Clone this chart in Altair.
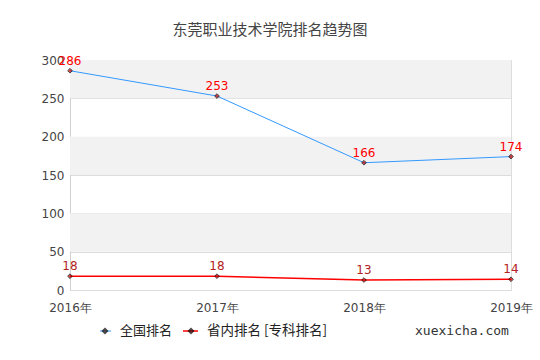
import altair as alt
import pandas as pd

years = [2016, 2017, 2018, 2019]
national = [286, 253, 166, 174]
provincial = [18, 18, 13, 14]
band_lo = [50, 150, 250]
band_hi = [100, 200, 300]
y_ticks = [0, 50, 100, 150, 200, 250, 300]
title_text = "东莞职业技术学院排名趋势图"
legend_labels = ["全国排名", "省内排名 [专科排名]"]
watermark = "xuexicha.com"

df = pd.DataFrame({"year": years, "national": national, "provincial": provincial})
bands = pd.DataFrame({"lo": band_lo, "hi": band_hi})
one = alt.Data(values=[{"a": 1}])

xs = alt.Scale(domain=[2016, 2019], nice=False, zero=False)
ys = alt.Scale(domain=[0, 300], nice=False)

xaxis = alt.Axis(values=years, labelExpr="datum.value + '年'",
                 title=None, grid=False, domain=False, ticks=False, labelPadding=12,
                 labelColor="#444", labelFont="DejaVu Sans", labelFontSize=12,
                 labelFlush=False, labelOverlap=False)
yaxis = alt.Axis(values=y_ticks, title=None, grid=True, gridColor="#dcdcdc", domain=True,
                 domainColor="#d0d0d0", ticks=False, labelPadding=6, labelColor="#444",
                 labelFont="DejaVu Sans", labelFontSize=12, labelOverlap=False, labelFlush=False)

def X():
    return alt.X("year:Q", scale=xs, axis=xaxis)

def Y(f):
    return alt.Y(f, scale=ys, axis=yaxis)

band = alt.Chart(bands).mark_rect(color="#f2f2f2").encode(
    x=alt.value(0), x2=alt.value(441), y=Y("lo:Q"), y2="hi:Q")

base = alt.Chart(df)

nat_line = base.mark_line(color="#3399ff", strokeWidth=1).encode(x=X(), y=Y("national:Q"))
nat_pts = base.mark_point(shape="diamond", size=22, filled=True, color="#cc0000", stroke="black", strokeWidth=1).encode(
    x=X(), y=Y("national:Q"))
nat_txt = base.mark_text(dy=-10, color="#ff0000", font="DejaVu Sans", fontSize=12).encode(
    x=X(), y=Y("national:Q"), text="national:Q")

pro_line = base.mark_line(color="#ff0000", strokeWidth=1.5).encode(x=X(), y=Y("provincial:Q"))
pro_pts = base.mark_point(shape="diamond", size=22, filled=True, color="#cc0000", stroke="black", strokeWidth=1).encode(
    x=X(), y=Y("provincial:Q"))
pro_txt = base.mark_text(dy=-10, color="#b22222", font="DejaVu Sans", fontSize=12).encode(
    x=X(), y=Y("provincial:Q"), text="provincial:Q")

title = alt.Chart(one).mark_text(fontSize=15, color="#444", font="Noto Sans CJK SC").encode(
    x=alt.value(200), y=alt.value(-30), text=alt.value(title_text))

leg1_line = alt.Chart(one).mark_rule(color="#3399ff", strokeWidth=1).encode(
    x=alt.value(30), x2=alt.value(41), y=alt.value(271))
leg1_pt = alt.Chart(one).mark_point(shape="diamond", size=18, filled=True, color="#cc0000", stroke="black").encode(
    x=alt.value(35), y=alt.value(271))
leg1_txt = alt.Chart(one).mark_text(align="left", fontSize=13, color="#222", font="Noto Sans CJK SC").encode(
    x=alt.value(50), y=alt.value(271), text=alt.value(legend_labels[0]))
leg2_line = alt.Chart(one).mark_rule(color="#ff0000", strokeWidth=1.5).encode(
    x=alt.value(113), x2=alt.value(128), y=alt.value(271))
leg2_pt = alt.Chart(one).mark_point(shape="diamond", size=18, filled=True, color="#cc0000", stroke="black").encode(
    x=alt.value(121), y=alt.value(271))
leg2_txt = alt.Chart(one).mark_text(align="left", fontSize=13.5, color="#222", font="Noto Sans CJK SC").encode(
    x=alt.value(137), y=alt.value(271), text=alt.value(legend_labels[1]))
wm = alt.Chart(one).mark_text(align="left", fontSize=13, color="#333", font="DejaVu Sans Mono").encode(
    x=alt.value(345), y=alt.value(271), text=alt.value(watermark))

chart = alt.layer(band, nat_line, pro_line, nat_pts, pro_pts, nat_txt, pro_txt, title,
                  leg1_line, leg1_pt, leg1_txt, leg2_line, leg2_pt, leg2_txt, wm).properties(
    width=441, height=230,
    autosize=alt.AutoSizeParams(type="none"),
    padding={"left": 70, "top": 60, "right": 29, "bottom": 70},
).configure_view(stroke="#d9d9d9").configure(background="white")

chart.save("out.html", embed_options={"renderer": "svg", "actions": False})
